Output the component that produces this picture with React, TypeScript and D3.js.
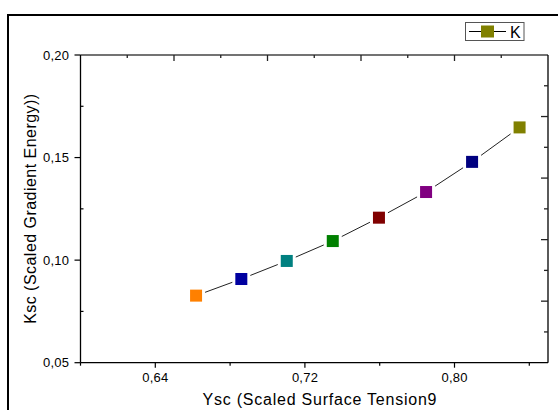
import React from "react";
import * as d3 from "d3";

const xValues = [0.6618, 0.686, 0.7103, 0.7349, 0.7596, 0.7848, 0.8094, 0.8348];
const yValues = [0.0827, 0.0908, 0.0996, 0.1093, 0.1207, 0.1332, 0.1479, 0.1647];
const pointColors = ["#FF8000", "#0000A0", "#008080", "#008000", "#800000", "#800080", "#000080", "#808000"];

const xMajorTicks = [0.64, 0.72, 0.8];
const xMinorTicks = [0.6, 0.68, 0.76, 0.84];
const yMajorTicks = [0.05, 0.1, 0.15, 0.2];
const yMinorTicks = [0.075, 0.125, 0.175];
const topMajorTicks = [0.65, 0.7, 0.75, 0.8];
const topMinorTicks = [0.625, 0.675, 0.725, 0.775, 0.825];
const rightMajorTicks = [0.08, 0.11, 0.14, 0.17];
const rightMinorTicks = [0.065, 0.095, 0.125, 0.155, 0.185];

const seriesName = "K";
const xTitle = "Ysc (Scaled Surface Tension9";
const yTitle = "Ksc (Scaled Gradient Energy))";

const fmt = (v: number) => d3.format(".2f")(v).replace(".", ",");

export default function App() {
  const W = 558, H = 410;
  const left = 80.5, right = 548, top = 55, bottom = 362.7;
  const x = d3.scaleLinear().domain([0.6, 0.85]).range([left, right]);
  const y = d3.scaleLinear().domain([0.05, 0.2]).range([bottom, top]);
  const line = d3.line<number>().x((_, i) => x(xValues[i])).y((d) => y(d));
  const font = "'Liberation Sans', Arial, sans-serif";
  const ms = 12;

  return (
    <svg width={W} height={H} style={{ position: "absolute", left: 0, top: 0, background: "#fff" }} fontFamily={font}>
      <rect x={0} y={0} width={W} height={H} fill="#fff" />
      {/* outer frame */}
      <rect x={8} y={15} width={700} height={600} fill="none" stroke="#000" strokeWidth={2} />

      {/* axes lines */}
      <line x1={left} x2={right} y1={top} y2={top} stroke="#444" strokeWidth={1.3} />
      <line x1={right} x2={right} y1={top} y2={bottom} stroke="#000" strokeWidth={1.3} />
      <line x1={left} x2={right} y1={bottom} y2={bottom} stroke="#000" strokeWidth={1.3} />
      <line x1={left} x2={left} y1={top} y2={bottom} stroke="#000" strokeWidth={1.3} />

      {/* bottom ticks */}
      {xMajorTicks.map((t) => (
        <g key={"xb" + t}>
          <line x1={x(t)} x2={x(t)} y1={bottom} y2={bottom + 5} stroke="#000" strokeWidth={1.2} />
          <text x={x(t)} y={381.5} textAnchor="middle" fontSize={13} textLength={26} lengthAdjust="spacing" fill="#000">{fmt(t)}</text>
        </g>
      ))}
      {xMinorTicks.map((t) => (
        <line key={"xm" + t} x1={x(t)} x2={x(t)} y1={bottom} y2={bottom + 3} stroke="#000" strokeWidth={1.2} />
      ))}

      {/* left ticks */}
      {yMajorTicks.map((t) => (
        <g key={"yl" + t}>
          <line x1={left - 6} x2={left} y1={y(t)} y2={y(t)} stroke="#000" strokeWidth={1.2} />
          <text x={69} y={y(t) + 4.5} textAnchor="end" fontSize={13} textLength={26} lengthAdjust="spacing" fill="#000">{fmt(t)}</text>
        </g>
      ))}
      {yMinorTicks.map((t) => (
        <line key={"ym" + t} x1={left} x2={left + 3} y1={y(t)} y2={y(t)} stroke="#000" strokeWidth={1.2} />
      ))}

      {/* top ticks */}
      {topMajorTicks.map((t) => (
        <line key={"tt" + t} x1={x(t)} x2={x(t)} y1={top} y2={top + 6} stroke="#222" strokeWidth={1.3} />
      ))}
      {topMinorTicks.map((t) => (
        <line key={"tm" + t} x1={x(t)} x2={x(t)} y1={top} y2={top + 3} stroke="#222" strokeWidth={1.3} />
      ))}

      {/* right ticks */}
      {rightMajorTicks.map((t) => (
        <line key={"rt" + t} x1={right - 7} x2={right} y1={y(t)} y2={y(t)} stroke="#222" strokeWidth={1.3} />
      ))}
      {rightMinorTicks.map((t) => (
        <line key={"rm" + t} x1={right - 4} x2={right} y1={y(t)} y2={y(t)} stroke="#222" strokeWidth={1.3} />
      ))}

      {/* series line */}
      <path d={line(yValues) || ""} fill="none" stroke="#222" strokeWidth={1} />
      {yValues.map((v, i) => (
        <g key={"p" + i}>
          <rect x={x(xValues[i]) - ms / 2 - 3} y={y(v) - ms / 2 - 3} width={ms + 6} height={ms + 6} fill="#fff" />
          <rect x={x(xValues[i]) - ms / 2} y={y(v) - ms / 2} width={ms} height={ms} fill={pointColors[i]} />
        </g>
      ))}

      {/* axis titles */}
      <text x={319.5} y={405} textAnchor="middle" fontSize={16} textLength={234} lengthAdjust="spacing" fill="#000">{xTitle}</text>
      <text transform={`translate(36, ${(top + bottom) / 2}) rotate(-90)`} textAnchor="middle" fontSize={16} textLength={230} lengthAdjust="spacing" fill="#000">{yTitle}</text>

      {/* legend */}
      <rect x={465.5} y={22.5} width={58.5} height={18} fill="#fff" stroke="#555" strokeWidth={1} />
      <line x1={469} x2={506} y1={31.5} y2={31.5} stroke="#000" strokeWidth={1} />
      <rect x={481} y={25.5} width={13} height={12} fill="#808000" />
      <text x={510} y={37.5} fontSize={16} fill="#000">{seriesName}</text>
    </svg>
  );
}
